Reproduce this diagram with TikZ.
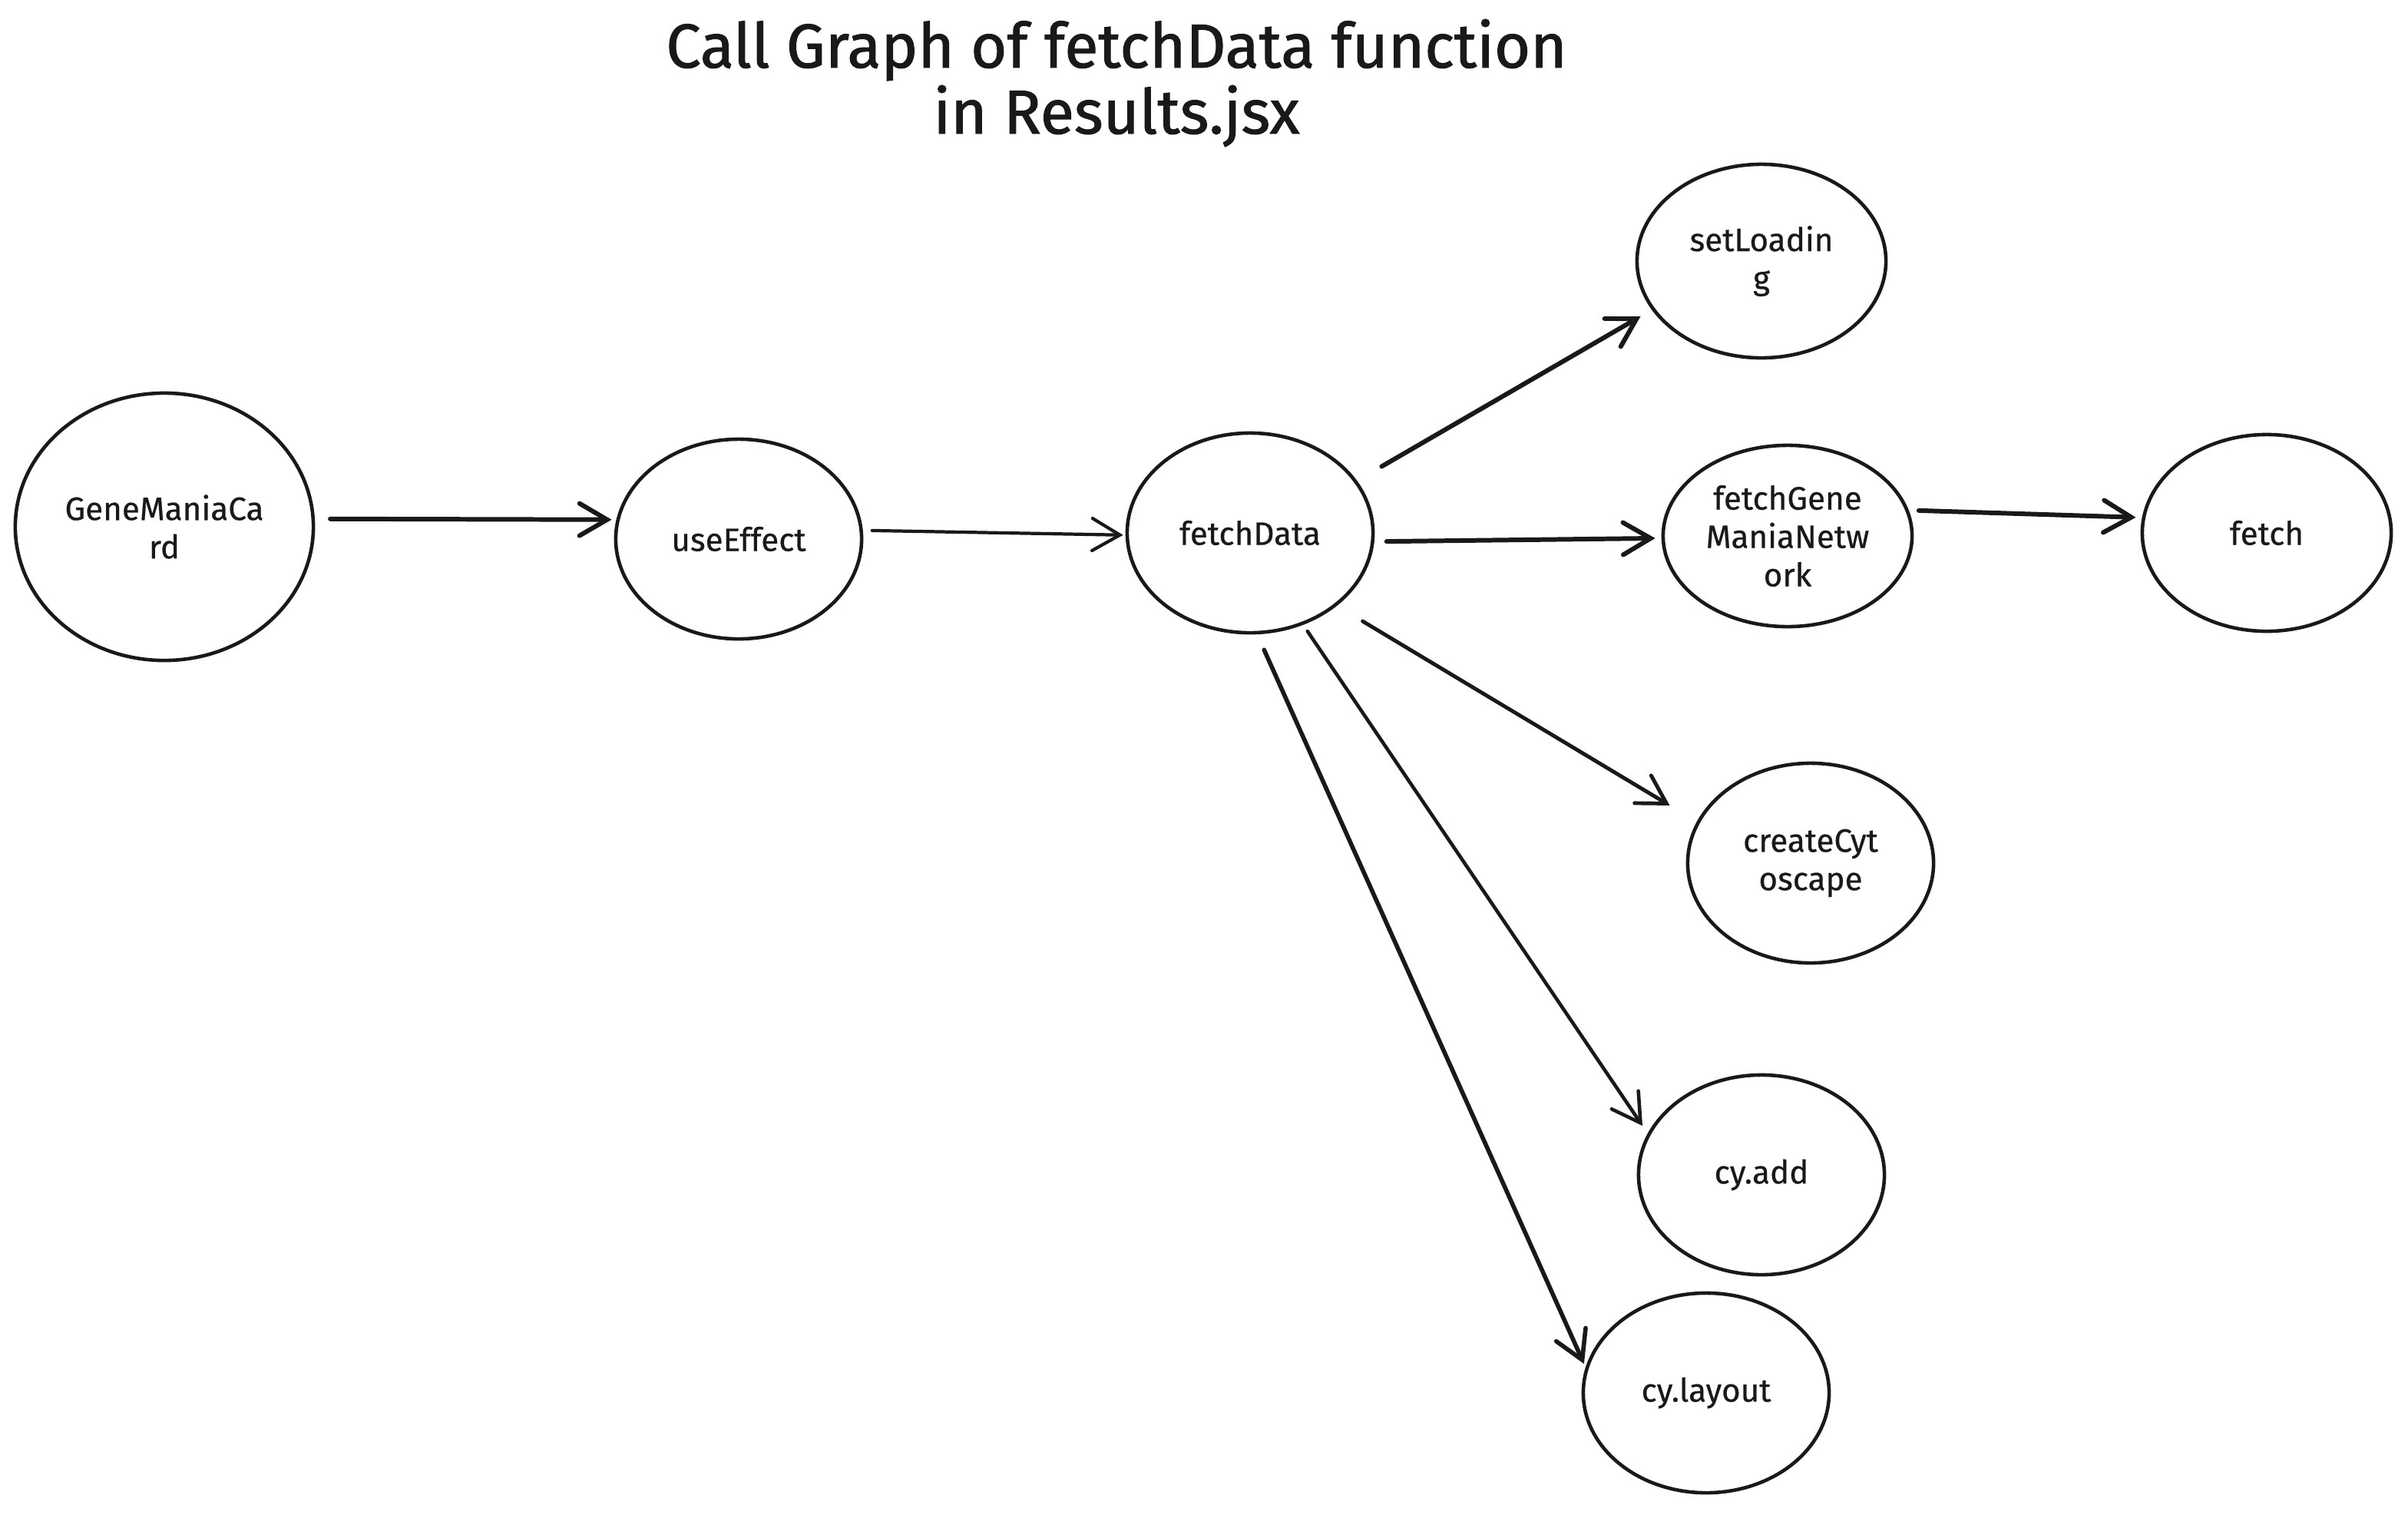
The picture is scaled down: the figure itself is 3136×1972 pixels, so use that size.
\documentclass[tikz,border=0pt]{standalone}
\usepackage{fontspec}
\setmainfont{Fira Sans}
\usetikzlibrary{shapes.geometric,arrows.meta}
\newfontfamily\nodefnt[FakeBold=0.5]{Fira Sans}
\newfontfamily\titlefnt[FakeBold=1.2]{Fira Sans}
\tikzset{
  fn/.style={ellipse, draw=black!90, line width=1.3pt, inner sep=0pt, align=center,
    font=\nodefnt\fontsize{12pt}{14.2pt}\selectfont, text=black!90},
  conn/.style={draw=black!90, line width=1.2pt, line cap=round,
    -{Straight Barb[length=0.36cm,width=0.42cm,line cap=round]}},
  thick conn/.style={conn, line width=1.7pt},
  ttl/.style={font=\titlefnt\fontsize{23pt}{26pt}\selectfont, text=black!90, anchor=base, inner sep=0pt}
}
\begin{document}
\begin{tikzpicture}[x=0.01cm,y=-0.01cm]
\useasboundingbox[fill=white] (0,0) rectangle (3136,1972);
\node[ttl] (t1) at (1454,88) {Call Graph of fetchData function};
\node[ttl] (t2) at (1454,174) {in Results.jsx};

\node[fn, minimum width=3.88cm, minimum height=3.48cm] (g) at (214,686) {GeneManiaCa\\rd};
\node[fn, minimum width=3.2cm, minimum height=2.6cm] (u) at (962,702) {useEffect};
\node[fn, minimum width=3.2cm, minimum height=2.6cm] (f) at (1628,694) {fetchData};
\node[fn, minimum width=3.24cm, minimum height=2.52cm] (s) at (2294,340) {setLoadin\\g};
\node[fn, minimum width=3.24cm, minimum height=2.36cm] (n) at (2328,698) {fetchGene\\ManiaNetw\\ork};
\node[fn, minimum width=3.24cm, minimum height=2.56cm] (h) at (2952,694) {fetch};
\node[fn, minimum width=3.2cm, minimum height=2.6cm] (c) at (2358,1124) {createCyt\\oscape};
\node[fn, minimum width=3.2cm, minimum height=2.6cm] (a) at (2294,1530) {cy.add};
\node[fn, minimum width=3.2cm, minimum height=2.6cm] (l) at (2222,1814) {cy.layout};

\draw[thick conn, shorten <=0.2cm, shorten >=0.06cm] (g.3) -- (u.171);
\draw[conn, shorten <=0.12cm, shorten >=0.03cm] (u.4) -- (f.181);
\draw[thick conn, shorten <=0.37cm, shorten >=0.17cm] (f.26) -- (s.204);
\draw[thick conn, shorten <=0.16cm, shorten >=0.08cm] (f.-4) -- (n.181);
\draw[thick conn, shorten <=0.13cm, shorten >=0.08cm] (n.12) -- (h.173);
\draw[conn, line width=1.4pt, shorten <=0.39cm, shorten >=0.41cm] (f.-40) -- (c.160);
\draw[conn, line width=1.3pt, shorten <=0.10cm, shorten >=0.12cm] (f.-60) -- (a.160);
\draw[thick conn, line width=1.6pt, shorten <=0.22cm, shorten >=0.05cm] (f.-86) -- (l.168);
\end{tikzpicture}
\end{document}
